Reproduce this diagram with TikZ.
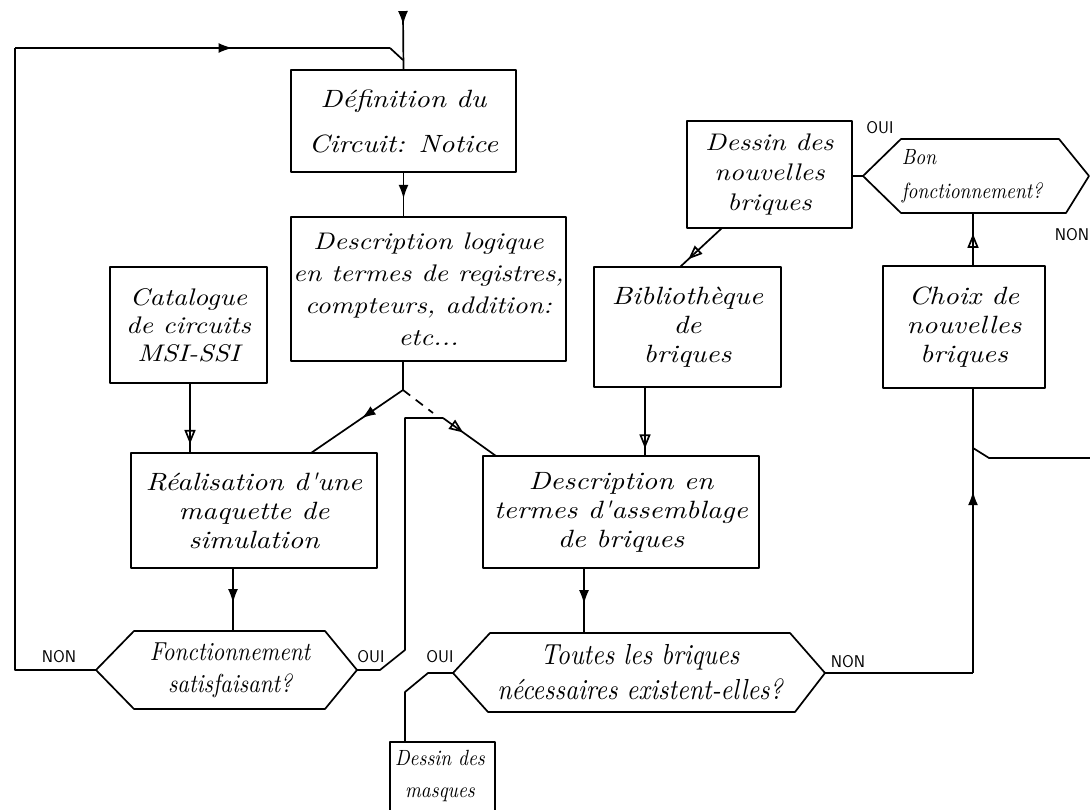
\documentclass[tikz,border=0pt]{standalone}
\usepackage{fontspec}
\newfontfamily\handfam{lmroman10-italic.otf}[FakeStretch=1.15]
\newfontfamily\narrowfam{lmroman10-italic.otf}[FakeStretch=0.88]
\usetikzlibrary{arrows.meta,decorations.markings,calc}
\newcommand\hf[2]{\handfam\fontsize{#1}{#2}\selectfont}
\newcommand\nf[2]{\narrowfam\fontsize{#1}{#2}\selectfont}
\newcommand\lblfont{\fontsize{17}{19}\selectfont\sffamily}
\begin{document}
\begin{tikzpicture}[x=1pt,y=-1pt, line width=1.7pt, line join=round,
  box/.style={draw, rectangle, align=center, font=\hf{25}{29}, inner sep=2pt},
  txt/.style={align=center, inner sep=0pt},
  lbl/.style={font=\lblfont, inner sep=0pt},
  farrow/.style={postaction={decorate}, decoration={markings, mark=at position #1 with {\arrow{Latex[length=14pt,width=10pt]}}}},
  oarrow/.style={postaction={decorate}, decoration={markings, mark=at position #1 with {\arrow{Triangle[open,length=14pt,width=11pt,line width=1.7pt]}}}},
]
\useasboundingbox (0,0) rectangle (1090,810);
\fill[white] (0,0) rectangle (1090,810);

% ---------- boxes ----------
\node[box, minimum width=225pt, minimum height=102pt, font=\hf{25}{45}] (def) at (403.5,121) {D\'efinition du\\Circuit: Notice};
\node[box, minimum width=269pt, minimum height=144pt, font=\hf{24}{32}] (logic) at (428.5,289) {Description logique\\en termes de registres,\\compteurs, addition:\\etc...};
\node[box, minimum width=157pt, minimum height=116pt, font=\hf{24}{28}] (cat) at (188.5,325) {Catalogue\\de circuits\\MSI-SSI};
\node[box, minimum width=246pt, minimum height=115pt] (real) at (254,510.5) {R\'ealisation d'une\\maquette de\\simulation};
\node[box, minimum width=276pt, minimum height=112pt] (desc) at (621,512) {Description en\\termes d'assemblage\\de briques};
\node[box, minimum width=187pt, minimum height=120pt] (bib) at (687.5,327) {Biblioth\`eque\\de\\briques};
\node[box, minimum width=165pt, minimum height=107pt, font=\hf{24}{30}] (dnb) at (769.5,174.5) {Dessin des\\nouvelles\\briques};
\node[box, minimum width=162pt, minimum height=122pt] (choix) at (964,327) {Choix de\\nouvelles\\briques};
\draw (390,830) -- (390,742) coordinate (mtl) -- (495,742) -- (495,830);
\node[txt, font=\nf{22}{32}] (masq) at (440,776) {Dessin des\\masques};

% ---------- hexagons ----------
\coordinate (fL) at (96,670); \coordinate (fR) at (357,670);
\draw (fL) -- (134,631) -- (325,631) -- (fR) -- (325,709) -- (134,709) -- cycle;
\node[txt, font=\nf{26}{32}] (fonct) at (230,670) {Fonctionnement\\satisfaisant?};
\coordinate (ftop) at (233,631);

\coordinate (tL) at (453,673); \coordinate (tR) at (825,673);
\draw (tL) -- (490,633) -- (790,633) -- (tR) -- (795,712) -- (488,712) -- cycle;
\node[txt, font=\nf{29}{35}] (toutes) at (640,672) {Toutes les briques\\n\'ecessaires existent-elles?};
\coordinate (ttop) at (584,633);

\coordinate (bL) at (863,176); \coordinate (bR) at (1089,176);
\draw (bL) -- (901,139) -- (1059,139) -- (bR) -- (1066,213) -- (901,213) -- cycle;
\node[txt, align=left, font=\nf{22}{34}] (bon) at (972,176) {Bon\\fonctionnement?};
\coordinate (bbot) at (973,213);

% ---------- coordinates ----------
\coordinate (start) at (403,14);
\coordinate (lb) at (15,670);
\coordinate (lt) at (15,48);
\coordinate (lj) at (390,48);
\coordinate (ljoin) at (403,60);
\coordinate (br) at (403,390);
\coordinate (realin) at (311,453);
\coordinate (dash) at (433,413);
\coordinate (oj) at (443,418);
\coordinate (descin) at (496,456);
\coordinate (o1) at (380,670);
\coordinate (o2) at (405,650);
\coordinate (o3) at (405,418);
\coordinate (m1) at (428,673);
\coordinate (m2) at (405,692);
\coordinate (cX) at (973,0);
\coordinate (r1) at (973,673);
\coordinate (in1) at (1090,458);
\coordinate (in2) at (989,458);
\coordinate (in3) at (973,448);
\coordinate (dnbout) at (722,228);
\coordinate (bibin) at (680,267);
\coordinate (catX) at (190,0);
\coordinate (bibX) at (645,0);
\coordinate (descX) at (584,0);
\coordinate (realX) at (233,0);

% ---------- connectors ----------
\draw[farrow=0.2] (start) -- (def.north);
\draw (fL) -- (lb) -- (lt);
\draw[farrow=0.58] (lt) -- (lj);
\draw (lj) -- (ljoin);
\draw[farrow=0.6] (def.south) -- (def.south |- logic.north);
\draw (br |- logic.south) -- (br);
\draw[farrow=0.45] (br) -- (realin);
\draw[dashed, dash pattern=on 9pt off 7pt] (br) -- (dash);
\draw (fR) -- (o1) -- (o2) -- (o3) -- (oj);
\draw[oarrow=0.38] (oj) -- (descin);
\draw[oarrow=0.88] (cat.south -| catX) -- (real.north -| catX);
\draw[farrow=0.55] (real.south -| realX) -- (ftop);
\draw[oarrow=0.9] (bib.south -| bibX) -- (desc.north -| bibX);
\draw[farrow=0.55] (desc.south -| descX) -- (ttop);
\draw (tL) -- (m1) -- (m2) -- (m2 |- mtl);
\draw (tR) -- (r1);
\draw[farrow=0.64] (r1) -- (choix.south -| cX);
\draw (in1) -- (in2) -- (in3);
\draw[oarrow=0.6] (choix.north -| cX) -- (bbot);
\draw (dnb.east |- bL) -- (bL);
\draw[oarrow=0.8] (dnbout) -- (bibin);

% ---------- labels ----------
\node[lbl] (n1) at (59,657) {NON};
\node[lbl] (y1) at (371,657) {OUI};
\node[lbl] (y2) at (440,657) {OUI};
\node[lbl] (n2) at (848,662) {NON};
\node[lbl] (y3) at (880,128) {OUI};
\node[lbl] (n3) at (1072,235) {NON};
\end{tikzpicture}
\end{document}
